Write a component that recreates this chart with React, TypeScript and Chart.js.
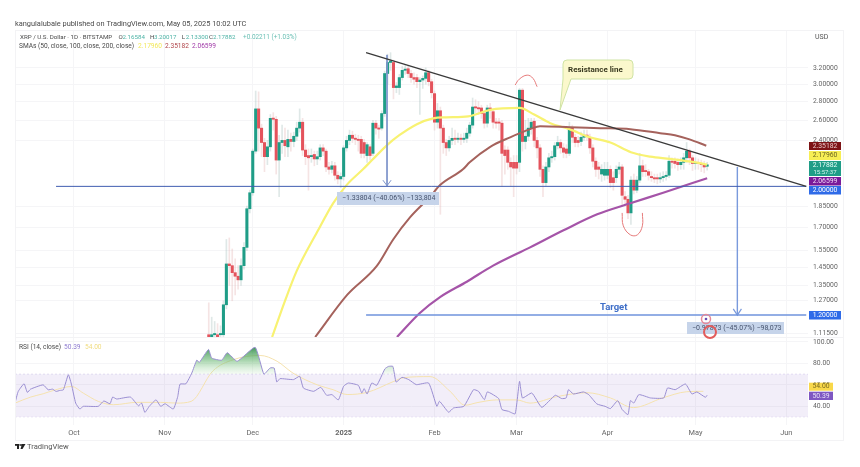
import React, { useEffect, useRef } from "react";
import { Chart, registerables } from "chart.js";

Chart.register(...registerables);

// Day numbers count from 1 Oct 2024 = 0.
const monthDays = [0, 31, 61, 92, 123, 151, 182, 212, 243];
const monthLabels = ["Oct", "Nov", "Dec", "2025", "Feb", "Mar", "Apr", "May", "Jun"];
const priceTicks = [3.2, 3.0, 2.8, 2.6, 2.4, 1.85, 1.7, 1.55, 1.45, 1.35, 1.27, 1.115];
const rsiTicks = [100, 80, 60, 40];

const firstCandleDay = 46;
// rows: open, close, high, low
const candlesNov = [
  [1.11, 1.1, 1.26, 1.05], [1.1, 1.11, 1.19, 1.06], [1.11, 1.11, 1.17, 1.07], [1.11, 1.1, 1.16, 1.07], [1.11, 1.11, 1.15, 1.08],
  [1.11, 1.25, 1.27, 1.09], [1.25, 1.47, 1.62, 1.23], [1.47, 1.46, 1.63, 1.35], [1.46, 1.42, 1.56, 1.27], [1.42, 1.4, 1.5, 1.3],
  [1.4, 1.38, 1.46, 1.33], [1.38, 1.46, 1.5, 1.35], [1.46, 1.57, 1.6, 1.44], [1.57, 1.83, 1.85, 1.55], [1.83, 1.95, 1.97, 1.8],
];
const candlesDec = [
  [1.95, 2.3, 2.32, 1.93], [2.3, 2.72, 2.92, 2.28], [2.72, 2.52, 2.91, 2.3], [2.52, 2.38, 2.56, 2.25], [2.38, 2.25, 2.42, 2.12],
  [2.25, 2.34, 2.4, 2.18], [2.34, 2.62, 2.66, 2.3], [2.62, 2.61, 2.68, 2.5], [2.61, 2.22, 2.64, 2.1], [2.22, 2.38, 2.45, 1.92],
  [2.38, 2.4, 2.55, 2.28], [2.4, 2.35, 2.52, 2.25], [2.34, 2.41, 2.5, 2.25], [2.41, 2.39, 2.47, 2.3], [2.39, 2.44, 2.48, 2.34],
  [2.44, 2.52, 2.58, 2.4], [2.52, 2.58, 2.72, 2.48], [2.58, 2.31, 2.62, 2.26], [2.31, 2.25, 2.36, 2.18], [2.26, 2.24, 2.32, 1.97],
  [2.25, 2.26, 2.32, 2.2], [2.27, 2.23, 2.3, 2.17], [2.23, 2.25, 2.3, 2.18], [2.25, 2.33, 2.36, 2.22], [2.33, 2.3, 2.36, 2.26],
  [2.3, 2.16, 2.32, 2.12], [2.16, 2.14, 2.2, 2.1], [2.14, 2.17, 2.21, 2.11], [2.17, 2.09, 2.2, 2.05], [2.09, 2.06, 2.12, 2.02],
  [2.06, 2.08, 2.11, 1.99],
];
const candlesJan = [
  [2.08, 2.33, 2.35, 2.05], [2.33, 2.4, 2.44, 2.3], [2.4, 2.45, 2.5, 2.36], [2.45, 2.42, 2.49, 2.38], [2.42, 2.41, 2.46, 2.36],
  [2.41, 2.4, 2.45, 2.3], [2.41, 2.28, 2.44, 2.24], [2.38, 2.28, 2.41, 2.24], [2.26, 2.36, 2.38, 2.2], [2.34, 2.26, 2.36, 2.22],
  [2.28, 2.57, 2.6, 2.26], [2.57, 2.52, 2.6, 2.46], [2.52, 2.51, 2.55, 2.42], [2.52, 2.67, 2.7, 2.5], [2.67, 3.13, 3.16, 2.64],
  [3.13, 3.27, 3.38, 3.0], [3.27, 3.29, 3.4, 3.17], [3.27, 2.96, 3.3, 2.83], [2.96, 2.98, 3.02, 2.9], [2.96, 3.08, 3.12, 2.88],
  [3.08, 3.17, 3.22, 3.05], [3.17, 3.18, 3.24, 3.12], [3.19, 3.13, 3.23, 3.08], [3.13, 3.08, 3.17, 3.02], [3.08, 3.06, 3.14, 3.0],
  [3.08, 3.03, 3.12, 2.96], [3.03, 3.05, 3.08, 2.66], [3.05, 3.07, 3.1, 2.95], [3.07, 3.14, 3.2, 3.0], [3.14, 3.03, 3.17, 2.98],
  [3.03, 2.9, 3.06, 2.84],
];
const candlesFeb = [
  [2.89, 2.58, 2.92, 2.5], [2.58, 2.7, 2.78, 2.52], [2.7, 2.52, 2.74, 1.79], [2.52, 2.38, 2.55, 2.28], [2.38, 2.33, 2.41, 2.26],
  [2.33, 2.4, 2.44, 2.3], [2.4, 2.42, 2.52, 2.36], [2.42, 2.41, 2.5, 2.36], [2.41, 2.42, 2.47, 2.38], [2.42, 2.41, 2.46, 2.36],
  [2.41, 2.42, 2.47, 2.38], [2.42, 2.47, 2.52, 2.38], [2.47, 2.55, 2.58, 2.44], [2.55, 2.74, 2.84, 2.52], [2.74, 2.73, 2.82, 2.68],
  [2.73, 2.72, 2.8, 2.66], [2.73, 2.67, 2.76, 2.62], [2.67, 2.57, 2.7, 2.52], [2.57, 2.73, 2.76, 2.53], [2.73, 2.71, 2.78, 2.62],
  [2.69, 2.58, 2.72, 2.52], [2.58, 2.57, 2.62, 2.52], [2.58, 2.57, 2.62, 2.5], [2.57, 2.28, 2.6, 2.0], [2.31, 2.26, 2.35, 2.1],
  [2.31, 2.2, 2.34, 2.14], [2.2, 2.16, 2.24, 2.0], [2.2, 2.15, 2.26, 1.92],
];
const candlesMar = [
  [2.2, 2.15, 2.26, 2.1], [2.2, 2.93, 2.95, 2.12], [2.93, 2.39, 2.95, 2.3], [2.39, 2.44, 2.6, 2.32], [2.44, 2.52, 2.62, 2.4],
  [2.52, 2.58, 2.62, 2.46], [2.59, 2.4, 2.62, 2.34], [2.4, 2.33, 2.43, 2.24], [2.33, 2.14, 2.36, 2.08], [2.14, 2.03, 2.17, 1.92],
  [2.03, 2.16, 2.2, 2.0], [2.16, 2.24, 2.28, 2.12], [2.24, 2.25, 2.3, 2.2], [2.25, 2.35, 2.38, 2.22], [2.35, 2.38, 2.44, 2.32],
  [2.38, 2.33, 2.41, 2.28], [2.33, 2.29, 2.37, 2.24], [2.32, 2.28, 2.36, 2.24], [2.28, 2.52, 2.58, 2.26], [2.52, 2.43, 2.55, 2.38],
  [2.43, 2.38, 2.46, 2.34], [2.4, 2.38, 2.44, 2.34], [2.39, 2.43, 2.48, 2.35], [2.43, 2.45, 2.5, 2.4], [2.45, 2.44, 2.5, 2.4],
  [2.43, 2.33, 2.46, 2.28], [2.33, 2.21, 2.36, 2.16], [2.21, 2.14, 2.24, 2.08], [2.16, 2.14, 2.2, 2.06], [2.1, 2.14, 2.18, 2.04],
  [2.09, 2.14, 2.2, 2.05],
];
const candlesApr = [
  [2.09, 2.14, 2.2, 2.06], [2.14, 2.03, 2.17, 1.99], [2.07, 2.03, 2.12, 1.97], [2.07, 2.14, 2.17, 2.03], [2.14, 2.16, 2.2, 2.1],
  [2.16, 1.93, 2.18, 1.86], [1.92, 1.9, 1.96, 1.85], [1.9, 1.8, 1.93, 1.76], [1.8, 2.05, 2.08, 1.72], [2.05, 1.97, 2.1, 1.94],
  [1.97, 2.05, 2.08, 1.95], [2.05, 2.17, 2.28, 2.03], [2.17, 2.12, 2.22, 2.08], [2.13, 2.12, 2.18, 2.08], [2.12, 2.09, 2.14, 2.05],
  [2.08, 2.07, 2.12, 2.04], [2.07, 2.06, 2.1, 2.03], [2.07, 2.06, 2.1, 2.02], [2.06, 2.07, 2.11, 2.03], [2.07, 2.08, 2.12, 2.04],
  [2.08, 2.09, 2.12, 2.05], [2.09, 2.21, 2.26, 2.07], [2.21, 2.2, 2.24, 2.15], [2.21, 2.19, 2.24, 2.15], [2.2, 2.18, 2.23, 2.13],
  [2.18, 2.2, 2.24, 2.14], [2.2, 2.24, 2.28, 2.14], [2.24, 2.3, 2.38, 2.2], [2.3, 2.24, 2.32, 2.18], [2.24, 2.19, 2.26, 2.13],
];
const candlesMay = [
  [2.19, 2.2, 2.24, 2.14], [2.2, 2.19, 2.23, 2.14], [2.19, 2.18, 2.22, 2.12], [2.18, 2.16, 2.21, 2.11], [2.16584, 2.17882, 2.20017, 2.133],
];

const sma50Days = [67.6, 72, 76, 83, 88.4, 93, 98.6, 101.7, 107, 111, 117, 122.5, 127, 134.5, 142, 152, 157, 162.5, 169, 176, 183, 190, 196.6, 203.4, 212, 216];
const sma50Values = [1.1, 1.27, 1.43, 1.67, 1.87, 2.01, 2.14, 2.22, 2.36, 2.45, 2.56, 2.62, 2.63, 2.64, 2.71, 2.73, 2.66, 2.57, 2.51, 2.43, 2.38, 2.29, 2.25, 2.23, 2.2, 2.18];
const sma100Days = [82.3, 93.2, 103.4, 108.9, 114.7, 121.5, 124.9, 132.7, 135, 142, 148.8, 155.6, 159, 169.3, 179.5, 189.8, 200, 205, 210, 215.7];
const sma100Values = [1.1, 1.3, 1.46, 1.62, 1.77, 1.92, 2.01, 2.14, 2.2, 2.34, 2.43, 2.51, 2.54, 2.53, 2.52, 2.51, 2.47, 2.45, 2.41, 2.35];
const sma200Days = [110.2, 118, 125, 134, 143, 155.6, 167, 178.5, 189.8, 201, 216];
const sma200Values = [1.1, 1.21, 1.29, 1.37, 1.46, 1.57, 1.68, 1.79, 1.87, 1.95, 2.066];

const rsiDays = [-20.1, -19, -17, -15.9, -14.8, -10.5, -8.8, -7.3, -6.1, -4.8, -3.6, -1.9, -0.8, 0.6, 2, 3.2, 8.3, 10.2, 12.3, 13.2, 14.6, 19.3, 22, 23.1, 24.2, 25.7, 28, 29.6, 31.1, 33.9, 35.4, 36.2, 38.2, 40.2, 41.9, 42.8, 45.9, 47, 50.4, 52.3, 55.7, 61.8, 64.8, 66.9, 68.3, 69.2, 70.3, 74.9, 77, 78.3, 81.8, 84.2, 86.2, 88, 90.2, 92, 93.6, 97, 98.2, 99, 100, 101.6, 103.3, 106.1, 107.3, 108.8, 109.9, 111.9, 114.2, 116.8, 121, 123.8, 124.7, 127.8, 129.5, 133, 136.3, 138, 140, 141, 142.6, 144.9, 146, 148.2, 150.5, 152, 153, 156.2, 159.6, 164.2, 166.4, 167.9, 168.7, 170.4, 173.8, 175.6, 178.4, 181.2, 183, 185.5, 187, 189, 189.8, 191, 192.7, 196.7, 201.2, 202.5, 205.1, 208.6, 210.8, 212.5, 215.4, 216];
const rsiValues = [43, 53.9, 61, 53, 56, 60, 55.4, 56, 53.9, 54.8, 55.4, 69.4, 60, 43, 37.5, 40, 40, 45, 42.4, 48.6, 46.8, 48.6, 40.5, 43, 34.4, 40, 46, 40, 42.4, 37.5, 49, 60.7, 61, 71, 83, 81, 93, 85, 83, 90, 82, 95, 70, 75.7, 75.7, 62.7, 65.8, 64.9, 68, 57, 54, 57.7, 50.3, 50.9, 46, 58.7, 61.7, 59.6, 52.4, 56.5, 51.5, 61.7, 59.6, 75, 77.2, 77.2, 62.7, 67, 64.9, 60.2, 61.7, 40, 44.7, 34.5, 38.5, 40, 55.5, 54, 46.2, 53.4, 51.5, 47.2, 37, 35.4, 33, 63.3, 47.8, 52.4, 39.1, 50.3, 47.2, 47.8, 55.5, 51.5, 53.4, 50.9, 42.2, 40, 37.9, 45.3, 37, 32.3, 45.3, 43.1, 50.9, 47.8, 47.8, 57.1, 55.5, 60.8, 51.5, 53.4, 48.4, 50.39];
const rsiMaDays = [-20.1, -14.8, -10.5, -7, -0.8, 3.2, 8.3, 13.5, 21.5, 29.5, 35, 40, 47.4, 54.3, 63.5, 69.3, 74.7, 83, 88.4, 93.2, 100, 108.9, 112.3, 121.5, 128.3, 133.4, 137.5, 144.3, 151, 155.6, 164.7, 175, 183, 190.8, 201, 209, 214.7];
const rsiMaValues = [43, 48.6, 51.7, 54.8, 58.5, 52.3, 44.6, 41.5, 43.7, 43.7, 43, 44.6, 73, 83.4, 87.4, 82, 71, 60, 55.5, 51, 53, 63, 66.6, 67.7, 54, 41, 43.4, 46, 46, 43, 49, 52.7, 47.8, 38.8, 48, 53.6, 54];

const bandEdgeDays = [-20.1, 250.4];
const bandUpper = [70, 70];
const bandLower = [30, 30];

const resistanceDays = [99.66, 249.8];
const resistancePrices = [3.4, 2.0];
const supportDays = [-6.1, 249.8];
const supportPrices = [2.0, 2.0];
const targetDays = [99.66, 249.8];
const targetPrices = [1.2, 1.2];
const dropADays = [106.8, 106.8];
const dropAPrices = [3.37, 2.005];
const arrowADays = [105.4, 106.8, 108.2];
const arrowAPrices = [2.05, 2.005, 2.05];
const dropBDays = [226.3, 226.3];
const dropBPrices = [2.16, 1.2];
const arrowBDays = [224.9, 226.3, 227.7];
const arrowBPrices = [1.23, 1.2, 1.23];
const topArcDays = [150.5, 151.9, 154.6, 156.6, 158];
const topArcPrices = [2.99, 3.06, 3.11, 3.07, 2.97];
const bottomArcDays = [187, 187.4, 189.8, 192.2, 193.9, 193.9];
const bottomArcPrices = [1.8, 1.71, 1.65, 1.65, 1.71, 1.8];

const UP = "#1f9d87";
const DOWN = "#e4535c";
const FONT = "Roboto, 'Liberation Sans', sans-serif";

const zip = (xs: number[], ys: number[]) => xs.map((x, i) => ({ x, y: ys[i] }));

function overlay(chart: any) {
  const ctx = chart.ctx as CanvasRenderingContext2D;
  const text = (s: string, x: number, y: number, color: string, size = 7, weight = "normal", align: CanvasTextAlign = "left") => {
    ctx.font = `${weight} ${size}px ${FONT}`;
    ctx.fillStyle = color;
    ctx.textAlign = align;
    ctx.textBaseline = "middle";
    ctx.fillText(s, x, y);
  };
  const box = (x: number, y: number, w: number, h: number, color: string) => {
    ctx.fillStyle = color;
    ctx.fillRect(x, y, w, h);
  };
  ctx.save();

  // frame
  ctx.strokeStyle = "#f3f3f5";
  ctx.lineWidth = 1;
  ctx.strokeRect(15.5, 30.5, 828, 410);
  ctx.beginPath();
  ctx.moveTo(15, 337.5);
  ctx.lineTo(843, 337.5);
  ctx.stroke();

  // header
  text("kangulalubale published on TradingView.com, May 05, 2025 10:02 UTC", 15, 24, "#4a4a4a", 7.4);
  text("XRP / U.S. Dollar · 1D · BITSTAMP", 20, 37.5, "#4a4a4a", 6.2);
  const oh: [string, string, number][] = [["O", "2.16584", 118.5], ["H", "3.20017", 150], ["L", "2.13300", 181.7], ["C", "2.17882", 209]];
  oh.forEach(([k, v, x]) => {
    text(k, x, 37.5, "#4a4a4a", 6.2);
    text(v, x + 4, 37.5, "#4db3a6", 6.2);
  });
  text("+0.02211 (+1.03%)", 243, 37.5, "#6cc0b5", 6.4);
  text("SMAs (50, close, 100, close, 200, close)", 19, 46.5, "#4a4a4a", 6.6);
  text("2.17960", 138, 46.5, "#f2e85c", 6.6);
  text("2.35182", 165, 46.5, "#b0454a", 6.6);
  text("2.06599", 192, 46.5, "#a03aa8", 6.6);
  text("USD", 815, 37, "#555", 7);

  // callout
  ctx.fillStyle = "#fbf8cc";
  ctx.strokeStyle = "#cfe3a4";
  ctx.lineWidth = 1;
  ctx.beginPath();
  ctx.moveTo(567, 60);
  ctx.lineTo(629, 60);
  ctx.quadraticCurveTo(633, 60, 633, 64);
  ctx.lineTo(633, 75);
  ctx.quadraticCurveTo(633, 79, 629, 79);
  ctx.lineTo(571, 79);
  ctx.lineTo(560, 110);
  ctx.lineTo(563, 79);
  ctx.lineTo(563, 64);
  ctx.quadraticCurveTo(563, 60, 567, 60);
  ctx.closePath();
  ctx.fill();
  ctx.stroke();
  text("Resistance line", 568, 69.5, "#3a3a20", 8, "bold");

  text("Target", 600, 308, "#3f6fc8", 9.5, "bold");

  // measure labels
  box(337, 192, 102, 13, "#c6d4ea");
  text("−1.33804 (−40.06%) −133,804", 342, 198.5, "#46536e", 7);
  box(687, 322, 97, 12, "#c6d4ea");
  text("−0.97873 (−45.07%) −98,073", 692, 328, "#46536e", 7);

  // sticker circles
  ctx.strokeStyle = "#e58a9a";
  ctx.lineWidth = 1.5;
  ctx.beginPath();
  ctx.arc(706, 319, 4.5, 0, Math.PI * 2);
  ctx.stroke();
  ctx.fillStyle = "#6a4fb0";
  ctx.beginPath();
  ctx.arc(706, 319, 1.3, 0, Math.PI * 2);
  ctx.fill();
  ctx.strokeStyle = "#e25c5c";
  ctx.lineWidth = 2;
  ctx.beginPath();
  ctx.arc(710, 332, 6, 0, Math.PI * 2);
  ctx.stroke();

  // price tags
  const tag = (y: number, h: number, bg: string, s: string, fg = "#fff") => {
    box(809, y, 32, h, bg);
    text(s, 825, y + h / 2, fg, 6.8, "normal", "center");
  };
  tag(142, 8, "#7d1416", "2.35182", "#e9c9c9");
  tag(151, 9, "#f7ee54", "2.17960", "#6b6420");
  tag(161, 15, "#1f9d87", "", "#fff");
  text("2.17882", 825, 165, "#eafff9", 6.8, "normal", "center");
  text("15:57:37", 825, 172, "#d6f5ee", 6, "normal", "center");
  tag(177, 8.5, "#7a1a9a", "2.06599", "#f0d8f6");
  tag(186, 8.5, "#2f6be8", "2.00000");
  tag(311, 8.5, "#2f6be8", "1.20000");

  // RSI
  text("RSI (14, close)", 19, 347, "#4a4a4a", 6.6);
  text("50.39", 64, 347, "#8e7cd0", 6.6);
  text("54.00", 85, 347, "#f0dc80", 6.6);
  box(809, 382.7, 24, 8, "#f9d84a");
  text("54.00", 821, 386.8, "#7a6a20", 6.8, "normal", "center");
  box(809, 391.7, 24, 8.3, "#7e57c2");
  text("50.39", 821, 395.9, "#e8e0f8", 6.8, "normal", "center");

  // footer logo
  ctx.fillStyle = "#222";
  ctx.fillRect(15, 444, 4.5, 1.8);
  ctx.fillRect(17, 444, 2, 5);
  ctx.beginPath();
  ctx.arc(21, 445, 1, 0, Math.PI * 2);
  ctx.fill();
  ctx.beginPath();
  ctx.moveTo(22, 444);
  ctx.lineTo(25.5, 444);
  ctx.lineTo(22.5, 449);
  ctx.lineTo(20.5, 449);
  ctx.closePath();
  ctx.fill();
  text("TradingView", 27, 447, "#555", 7.6);
  ctx.restore();
}

export default function App() {
  const ref = useRef<HTMLCanvasElement>(null);
  useEffect(() => {
    const canvas = ref.current!;
    const ctx = canvas.getContext("2d")!;
    const overbought = ctx.createLinearGradient(0, 344, 0, 375);
    overbought.addColorStop(0, "rgba(30,125,60,0.95)");
    overbought.addColorStop(0.5, "rgba(100,180,110,0.6)");
    overbought.addColorStop(1, "rgba(180,225,180,0.1)");

    const candles = [...candlesNov, ...candlesDec, ...candlesJan, ...candlesFeb, ...candlesMar, ...candlesApr, ...candlesMay];
    const isUp = candles.map((c) => c[1] >= c[0]);
    const bodies = candles.map((c, i) => ({ x: firstCandleDay + i, y: [c[0], c[1]] }));
    const wicks = candles.map((c, i) => ({ x: firstCandleDay + i, y: [c[3], c[2]] }));

    const thin = (data: any[], color: string, width: number, order: number, extra: any = {}) => ({
      type: "line",
      data,
      borderColor: color,
      borderWidth: width,
      pointRadius: 0,
      fill: false,
      order,
      xAxisID: "x",
      yAxisID: "y",
      ...extra,
    });

    const chart = new Chart(canvas, {
      type: "bar",
      data: {
        datasets: [
          thin(zip(bandEdgeDays, bandLower), "rgba(126,87,194,0.12)", 1, 20, { yAxisID: "rsi", borderDash: [2, 2] }),
          thin(zip(bandEdgeDays, bandUpper), "rgba(126,87,194,0.18)", 1, 19, {
            yAxisID: "rsi",
            borderDash: [2, 2],
            fill: { target: { value: 30 }, above: "rgba(126,87,194,0.1)", below: "rgba(126,87,194,0.1)" },
          }),
          {
            type: "bar",
            data: wicks,
            backgroundColor: isUp.map((u) => (u ? "rgba(150,180,175,0.3)" : "rgba(225,170,170,0.32)")),
            barThickness: 1,
            grouped: false,
            order: 15,
            xAxisID: "x",
            yAxisID: "y",
          },
          {
            type: "bar",
            data: bodies,
            backgroundColor: isUp.map((u) => (u ? UP : DOWN)),
            barThickness: 2.4,
            minBarLength: 1.2,
            grouped: false,
            order: 14,
            xAxisID: "x",
            yAxisID: "y",
          },
          thin(zip(sma50Days, sma50Values), "#f8f272", 2.2, 8, { cubicInterpolationMode: "monotone" }),
          thin(zip(sma100Days, sma100Values), "#a5625c", 2, 7, { cubicInterpolationMode: "monotone" }),
          thin(zip(sma200Days, sma200Values), "#a554a8", 2.2, 6, { cubicInterpolationMode: "monotone" }),
          thin(zip(supportDays, supportPrices), "#3f5cb0", 1, 5),
          thin(zip(targetDays, targetPrices), "#6f93dc", 1.5, 5),
          thin(zip(resistanceDays, resistancePrices), "#3a3a3a", 1.3, 4),
          thin(zip(dropADays, dropAPrices), "#8096cc", 1, 5),
          thin(zip(arrowADays, arrowAPrices), "#8096cc", 1, 5),
          thin(zip(dropBDays, dropBPrices), "#7a9adc", 1.4, 5),
          thin(zip(arrowBDays, arrowBPrices), "#7a9adc", 1.2, 5),
          thin(zip(topArcDays, topArcPrices), "#e67a7a", 1, 3, { tension: 0.4 }),
          thin(zip(bottomArcDays, bottomArcPrices), "#e67a7a", 1, 3, { tension: 0.4 }),
          thin(zip(rsiMaDays, rsiMaValues), "#f5e2ae", 1, 10, { yAxisID: "rsi", cubicInterpolationMode: "monotone" }),
          thin(zip(rsiDays, rsiValues), "#9a8ed2", 1, 9, {
            yAxisID: "rsi",
            tension: 0.15,
            fill: { target: { value: 70 }, above: overbought, below: "rgba(0,0,0,0)" },
          }),
        ] as any,
      },
      options: {
        animation: false,
        responsive: false,
        events: [],
        layout: { padding: { left: 15, top: 30, right: 0, bottom: 0 } },
        plugins: { legend: { display: false }, tooltip: { enabled: false }, title: { display: false } },
        scales: {
          x: {
            type: "linear",
            offset: false,
            min: -20.1,
            max: 250.4,
            afterBuildTicks: (s: any) => {
              s.ticks = monthDays.map((value) => ({ value }));
            },
            afterFit: (s: any) => {
              s.height = 42;
            },
            grid: { color: "#f5f5f7", drawTicks: false, offset: false },
            border: { display: false },
            ticks: {
              autoSkip: false,
              maxRotation: 0,
              padding: 4,
              color: "#666",
              callback: (v: any) => monthLabels[monthDays.indexOf(v)] ?? "",
              font: (c: any) => ({ family: FONT, size: 7.4, weight: c.tick && c.tick.value === 92 ? "bold" : "normal" }),
            },
          },
          y: {
            type: "logarithmic",
            position: "right",
            stack: "panes",
            stackWeight: 307,
            weight: 1,
            min: 1.1,
            max: 3.72,
            bounds: "data",
            afterBuildTicks: (s: any) => {
              s.ticks = priceTicks.map((value) => ({ value }));
            },
            afterFit: (s: any) => {
              s.width = 52;
            },
            grid: { color: "#f5f5f7", drawTicks: false },
            border: { display: false },
            ticks: {
              padding: 5,
              color: "#666",
              autoSkip: false,
              callback: (v: any) => Number(v).toFixed(5),
              font: { family: FONT, size: 6.8 },
            },
          },
          rsi: {
            type: "linear",
            position: "right",
            stack: "panes",
            stackWeight: 88,
            weight: 2,
            min: 22.6,
            max: 104.6,
            afterBuildTicks: (s: any) => {
              s.ticks = rsiTicks.map((value) => ({ value }));
            },
            afterFit: (s: any) => {
              s.width = 52;
            },
            grid: { color: "#f5f5f7", drawTicks: false },
            border: { display: false },
            ticks: {
              padding: 5,
              color: "#666",
              autoSkip: false,
              callback: (v: any) => Number(v).toFixed(2),
              font: { family: FONT, size: 6.8 },
            },
          },
        },
      } as any,
      plugins: [{ id: "overlay", afterDraw: overlay }],
    } as any);
    return () => chart.destroy();
  }, []);
  return (
    <canvas
      ref={ref}
      width={860}
      height={467}
      style={{ position: "absolute", left: 0, top: 0, width: 860, height: 467, display: "block", filter: "blur(0.65px)" }}
    />
  );
}
